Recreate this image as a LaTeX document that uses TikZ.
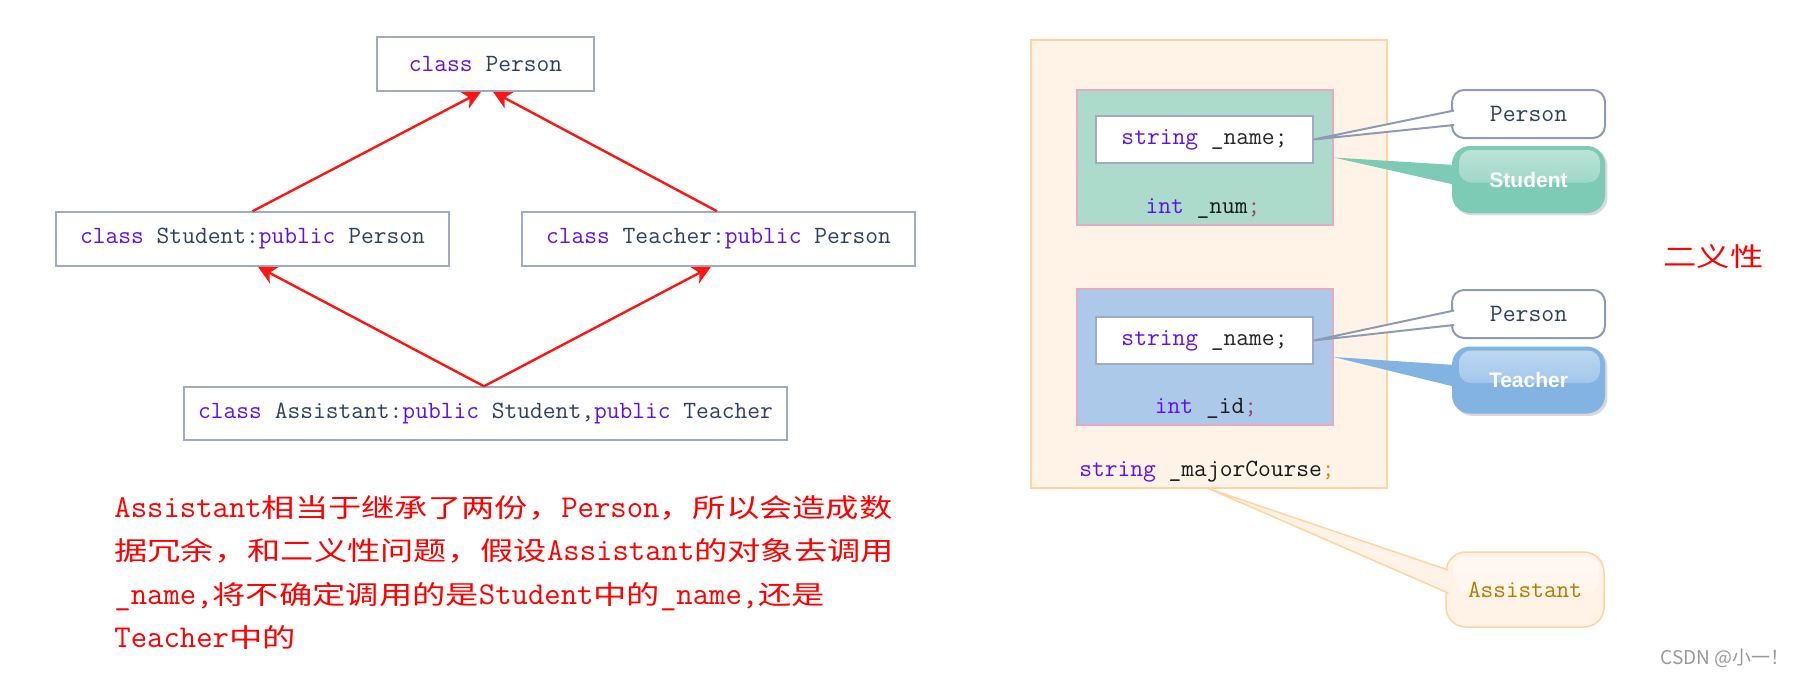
\documentclass[tikz,border=0pt]{standalone}
\usepackage{fontspec}
\usetikzlibrary{arrows.meta,shadows}
\newfontfamily\cjk[FakeStretch=1.28]{Noto Sans CJK SC}
\newfontfamily\cjkplain{Noto Sans CJK SC}
\newfontfamily\sansb{Liberation Sans}
\definecolor{kwcol}{RGB}{96,16,240}
\definecolor{idcol}{RGB}{46,64,96}
\definecolor{boxline}{RGB}{160,170,192}
\definecolor{arrowred}{RGB}{255,20,20}
\definecolor{peach}{RGB}{255,242,230}
\definecolor{peachline}{RGB}{255,212,158}
\definecolor{pinkline}{RGB}{232,170,192}
\definecolor{stufill}{RGB}{172,218,203}
\definecolor{teafill}{RGB}{173,201,234}
\definecolor{bubbleline}{RGB}{142,154,180}
\definecolor{stucol}{RGB}{125,203,181}
\definecolor{teacol}{RGB}{130,179,227}
\definecolor{goldtext}{RGB}{180,122,0}
\definecolor{semicol}{RGB}{160,64,96}
\definecolor{orangesemi}{RGB}{208,144,0}
\newcommand{\kw}[1]{\textcolor{kwcol}{#1}}
\newcommand{\codefont}{\fontsize{12.4}{14}\selectfont\ttfamily}
\newcommand{\lat}[1]{{\fontsize{15.9}{18}\selectfont\ttfamily #1}}

\begin{document}
\begin{tikzpicture}[x=0.5pt,y=-0.5pt,
  classbox/.style={draw=boxline,line width=0.75pt,fill=white,inner sep=0pt,
    minimum height=27pt,text=idcol,font=\codefont},
  inherit/.style={draw=arrowred,line width=1.2pt,-{Stealth[length=9pt,width=9pt,inset=2.5pt]}},
  membox/.style={draw=pinkline,line width=0.6pt,inner sep=0pt,minimum width=128pt},
  namebox/.style={draw=boxline,line width=0.6pt,fill=white,inner sep=0pt,
    minimum width=108.5pt,minimum height=23.5pt,text=black!85,font=\codefont},
  code/.style={inner sep=0pt,text=black!90,font=\codefont},
  bubble/.style={draw=bubbleline,line width=1pt,fill=white,rounded corners=6pt,
    minimum width=76.5pt,minimum height=24pt,text=idcol,
    font=\fontsize{12.5}{14}\selectfont\ttfamily},
  gloss/.style={path picture={\fill[top color=white!50!#1,bottom color=#1!94!white,rounded corners=6pt]
    ([xshift=3.5pt,yshift=-2pt]path picture bounding box.north west) rectangle
    ([xshift=-2.5pt,yshift=-1.5pt]path picture bounding box.east);}},
  tag/.style={fill=#1,rounded corners=9pt,minimum width=76.5pt,minimum height=33.5pt,
    gloss=#1,drop shadow={shadow xshift=1.2pt,shadow yshift=-1.2pt,opacity=0.3},
    text=white,font=\fontsize{10.5}{12}\selectfont\sansb\bfseries},
  note/.style={anchor=base west,inner sep=0pt,text=red,font=\fontsize{13}{16}\selectfont\cjk}]

\useasboundingbox (0,0) rectangle (1799,676);

\node[classbox,minimum width=108.5pt] (person) at (485.5,64) {\kw{class} Person};
\node[classbox,minimum width=196.5pt] (student) at (252.5,239) {\kw{class} Student:\kw{public} Person};
\node[classbox,minimum width=196.5pt] (teacher) at (718.5,239) {\kw{class} Teacher:\kw{public} Person};
\node[classbox,minimum width=301.5pt,minimum height=26.5pt] (assistant) at (485.5,413.5)
  {\kw{class} Assistant:\kw{public} Student,\kw{public} Teacher};

\draw[inherit] (student.north) -- ([xshift=-2.25pt]person.south);
\draw[inherit] ([xshift=-0.75pt]teacher.north) -- ([xshift=3.75pt]person.south);
\draw[inherit] ([xshift=-0.75pt]assistant.north) -- ([xshift=2.75pt]student.south);
\draw[inherit] ([xshift=-0.75pt]assistant.north) -- ([xshift=-3.75pt]teacher.south);

\node[note] (line1) at (114,517) {\lat{Assistant}相当于继承了两份，\lat{Person}，所以会造成数};
\node[note] (line2) at (114,560) {据冗余，和二义性问题，假设\lat{Assistant}的对象去调用};
\node[note] (line3) at (114,604) {\lat{\_name,}将不确定调用的是\lat{Student}中的\lat{\_name,}还是};
\node[note] (line4) at (114,647) {\lat{Teacher}中的};

\node[draw=peachline,fill=peach,line width=0.75pt,minimum width=178pt,minimum height=224pt,
  inner sep=0pt] (course) at (1209,264) {};
\node[membox,fill=stufill,minimum height=67.5pt] (stubox) at (1205,157.5) {};
\node[namebox] (stuname) at (1204.5,139.5) {\kw{string} \_name;};
\node[code] (stunum) at (1203,209) {\kw{int} \_num\textcolor{semicol}{;}};
\node[membox,fill=teafill,minimum height=68pt] (teabox) at (1205,357) {};
\node[namebox] (teaname) at (1204.5,340.5) {\kw{string} \_name;};
\node[code] (teaid) at (1206,408) {\kw{int} \_id\textcolor{semicol}{;}};
\node[code] (major) at (1207,472) {\kw{string} \_majorCourse\textcolor{orangesemi}{;}};

\node[bubble] (base1) at (1528.5,114) {Person};
\node[tag=stucol] (stulabel) at (1528.5,179.5) {Student};
\node[bubble] (base2) at (1528.5,314) {Person};
\node[tag=teacol] (tealabel) at (1528.5,380) {Teacher};
\node[fill=peach,draw=peachline,line width=0.75pt,rounded corners=10pt,minimum width=79pt,
  minimum height=37.5pt,gloss=peach,text=goldtext,font=\fontsize{12.3}{14}\selectfont\ttfamily]
  (asslabel) at (1525,589.5) {Assistant};

\fill[white] (stuname.east) -- ([xshift=1.5pt,yshift=1.75pt]base1.west) -- ([xshift=1.5pt,yshift=-5.5pt]base1.west) -- cycle;
\draw[bubbleline,line width=1pt] ([xshift=1.5pt,yshift=1.75pt]base1.west) -- (stuname.east) -- ([xshift=1.5pt,yshift=-5.5pt]base1.west);
\fill[white] (teaname.east) -- ([xshift=1.5pt,yshift=1.75pt]base2.west) -- ([xshift=1.5pt,yshift=-5.5pt]base2.west) -- cycle;
\draw[bubbleline,line width=1pt] ([xshift=1.5pt,yshift=1.75pt]base2.west) -- (teaname.east) -- ([xshift=1.5pt,yshift=-5.5pt]base2.west);
\fill[stucol] (stubox.east) -- ([xshift=2pt,yshift=7.25pt]stulabel.west) -- ([xshift=2pt,yshift=-2.75pt]stulabel.west) -- cycle;
\fill[teacol] (teabox.east) -- ([xshift=2pt,yshift=7.5pt]tealabel.west) -- ([xshift=2pt,yshift=-3.5pt]tealabel.west) -- cycle;
\fill[peach] (course.south) -- ([xshift=1.5pt,yshift=9.75pt]asslabel.west) -- ([xshift=1.5pt,yshift=-1.75pt]asslabel.west) -- cycle;
\draw[peachline,line width=0.75pt] ([xshift=1.5pt,yshift=9.75pt]asslabel.west) -- (course.south) -- ([xshift=1.5pt,yshift=-1.75pt]asslabel.west);

\node[text=red,font=\fontsize{13}{15}\selectfont\cjk] (twofold) at (1713.5,257) {二义性};
\node[text=black!40,font=\fontsize{9.5}{11}\selectfont\cjkplain] (mark) at (1725,658) {CSDN @小一！};
\end{tikzpicture}
\end{document}
